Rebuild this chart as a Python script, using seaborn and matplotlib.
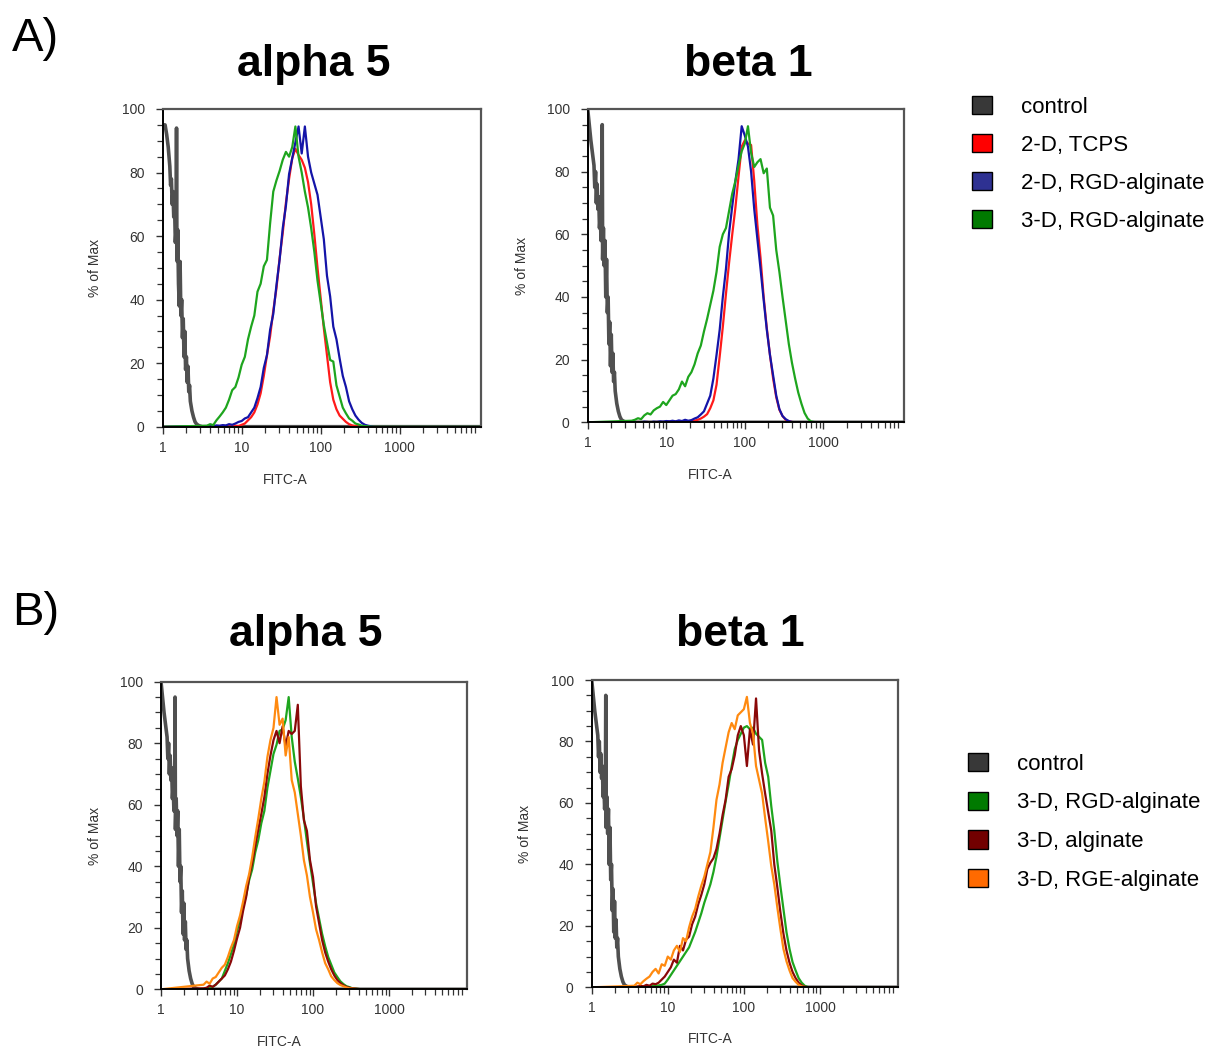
import numpy as np
import pandas as pd
import matplotlib.pyplot as plt
from matplotlib.patches import Patch
from matplotlib.ticker import NullFormatter
import seaborn as sns

sns.set_style('ticks')
plt.rcParams['font.family'] = ['Liberation Sans', 'DejaVu Sans']
plt.rcParams['text.color'] = 'black'

# log10(FITC-A) channel positions shared by all stained samples
log_bins = [0.56, 0.60, 0.64, 0.68, 0.72, 0.76, 0.80, 0.84, 0.88, 0.92,
            0.96, 1.00, 1.04, 1.08, 1.12, 1.16, 1.20, 1.24, 1.28, 1.32,
            1.36, 1.40, 1.44, 1.48, 1.52, 1.56, 1.60, 1.64, 1.68, 1.72,
            1.76, 1.80, 1.84, 1.88, 1.92, 1.96, 2.00, 2.04, 2.08, 2.12,
            2.16, 2.20, 2.24, 2.28, 2.32, 2.36, 2.40, 2.44, 2.48, 2.52,
            2.56, 2.60, 2.64, 2.68, 2.72, 2.76, 2.80, 2.84, 2.88, 2.92, 2.96]
log_top = 4.03

# unstained control (% of max)
ctrl_a5_log = [0.00, 0.03, 0.05, 0.07, 0.09, 0.10, 0.11, 0.12, 0.13, 0.14,
               0.15, 0.16, 0.17, 0.175, 0.18, 0.185, 0.19, 0.20, 0.21, 0.22,
               0.23, 0.24, 0.25, 0.26, 0.27, 0.28, 0.29, 0.30, 0.31, 0.32,
               0.33, 0.34, 0.35, 0.37, 0.39, 0.41, 0.43, 0.46, 0.50, 0.55]
ctrl_a5_pct = [95, 95, 92, 88, 82, 76, 78, 70, 74, 66,
               70, 58, 62, 94, 55, 52, 62, 45, 38, 52,
               35, 40, 28, 34, 22, 30, 18, 22, 14, 19,
               11, 13, 8, 5, 3, 1.5, 0.8, 0.3, 0, 0]
ctrl_log = [0.00, 0.02, 0.04, 0.06, 0.08, 0.09, 0.10, 0.11, 0.12, 0.13,
            0.14, 0.15, 0.16, 0.17, 0.18, 0.185, 0.19, 0.20, 0.21, 0.22,
            0.23, 0.24, 0.25, 0.26, 0.27, 0.28, 0.29, 0.30, 0.31, 0.32,
            0.33, 0.34, 0.35, 0.37, 0.39, 0.41, 0.43, 0.46, 0.50, 0.55]
ctrl_pct = [100, 95, 90, 86, 82, 75, 80, 70, 76, 68,
            72, 62, 66, 58, 63, 95, 52, 62, 50, 58,
            40, 52, 35, 40, 25, 32, 18, 28, 16, 22,
            13, 16, 10, 6, 3.5, 1.8, 0.8, 0.3, 0, 0]

# A) alpha 5
a_a5_tcps = [0, 0, 0, 0, 0, 0.1, 0, 0.2, 0.1, 0.3,
             0.2, 0.6, 1.0, 2.0, 3.0, 4.5, 7.0, 10.5, 16.0, 22.5,
             28.5, 36.5, 43.5, 53.0, 61.0, 70.5, 78.0, 84.5, 87.5, 85.5,
             84.0, 81.5, 77.0, 70.0, 60.5, 50.0, 40.5, 31.0, 22.5, 14.0,
             8.5, 5.5, 3.5, 2.5, 1.5, 0.8, 0.4, 0.2, 0.1, 0,
             0, 0, 0, 0, 0, 0, 0, 0, 0, 0, 0]
a_a5_rgd2d = [0.2, 0.3, 0.1, 0.4, 0.3, 0.5, 0.4, 0.8, 0.6, 1.0,
              1.5, 1.8, 2.6, 3.0, 4.5, 6.0, 9.0, 12.5, 18.5, 22.5,
              30.5, 35.5, 44.5, 52.5, 62.5, 69.5, 79.5, 84.5, 89.5, 94.5,
              86.0, 94.5, 85.0, 80.0, 76.5, 73.0, 66.0, 59.0, 47.5, 41.0,
              31.5, 27.5, 21.5, 16.0, 12.5, 8.0, 5.5, 3.5, 2.2, 1.2,
              0.6, 0.3, 0.1, 0, 0, 0, 0, 0, 0, 0, 0]
a_a5_rgd3d = [0.3, 0.8, 0.5, 2.0, 3.2, 4.5, 6.0, 8.5, 11.5, 12.5,
              15.5, 19.5, 22.0, 27.5, 31.5, 35.0, 42.5, 45.0, 50.5, 52.5,
              64.0, 74.0, 77.5, 80.5, 84.0, 86.5, 85.0, 88.0, 94.5, 85.0,
              80.0, 74.0, 69.0, 62.5, 55.0, 46.0, 39.0, 32.0, 26.5, 21.0,
              20.5, 13.0, 9.5, 6.0, 4.2, 2.6, 1.9, 1.0, 0.7, 0.3,
              0.2, 0.1, 0, 0, 0, 0, 0, 0, 0, 0, 0]

# A) beta 1
a_b1_tcps = [0, 0, 0.1, 0, 0, 0.1, 0, 0, 0.1, 0,
             0.1, 0, 0.2, 0.1, 0.2, 0.3, 0.2, 0.4, 0.3, 0.4,
             0.5, 0.8, 1.2, 1.8, 2.6, 4.5, 7.0, 12.0, 21.0, 30.5,
             41.0, 51.0, 60.0, 68.5, 78.5, 88.0, 90.0, 89.0, 88.5, 77.0,
             63.0, 52.5, 40.0, 30.0, 21.5, 14.0, 8.0, 4.0, 2.0, 0.8,
             0.3, 0.1, 0, 0, 0, 0, 0, 0, 0, 0, 0]
a_b1_rgd2d = [0, 0.1, 0, 0, 0.2, 0.1, 0, 0.2, 0.1, 0.3,
              0.2, 0.4, 0.3, 0.5, 0.3, 0.6, 0.4, 0.8, 0.5, 0.7,
              1.2, 1.6, 2.5, 3.5, 6.0, 8.5, 14.0, 21.5, 29.5, 40.0,
              49.0, 60.5, 69.0, 77.0, 84.0, 94.5, 91.5, 88.0, 80.0, 68.0,
              58.5, 49.0, 39.0, 29.5, 21.5, 15.0, 8.5, 4.2, 2.0, 1.0,
              0.4, 0.1, 0, 0, 0, 0, 0, 0, 0, 0, 0]
a_b1_rgd3d = [0.5, 0.8, 1.3, 1.0, 2.2, 2.9, 2.5, 3.8, 4.5, 5.0,
              6.5, 5.5, 7.0, 8.5, 9.0, 10.5, 13.0, 11.5, 14.5, 16.0,
              18.5, 22.0, 24.5, 29.0, 33.0, 37.5, 42.0, 48.0, 56.0, 60.0,
              62.0, 67.5, 73.0, 77.0, 82.0, 86.5, 89.0, 94.5, 86.0, 81.5,
              83.0, 84.0, 79.5, 81.0, 68.5, 66.0, 55.0, 48.0, 40.0, 32.5,
              25.0, 19.0, 14.0, 9.5, 6.0, 3.0, 1.2, 0.3, 0.1, 0, 0]

# B) alpha 5
b_a5_rgd = [0, 0.3, 0.5, 0.8, 1.5, 2.5, 3.5, 6.0, 8.5, 11.5,
            14.5, 19.0, 22.5, 27.0, 30.5, 35.5, 39.0, 44.5, 48.5, 54.0,
            58.0, 65.5, 71.0, 76.5, 79.5, 84.0, 84.5, 87.5, 95.0, 82.0,
            74.0, 68.5, 62.5, 55.5, 48.0, 41.0, 34.5, 28.0, 23.0, 18.0,
            14.0, 10.5, 8.0, 5.5, 4.0, 2.6, 1.7, 1.0, 0.7, 0.3,
            0.2, 0.1, 0, 0, 0, 0, 0, 0, 0, 0, 0]
b_a5_alg = [0.3, 0.5, 1.2, 0.8, 1.5, 2.5, 3.5, 4.5, 6.5, 9.0,
            12.5, 16.5, 20.0, 25.5, 30.0, 36.5, 41.0, 46.5, 52.0, 57.0,
            62.5, 70.0, 76.0, 81.0, 84.0, 80.0, 85.5, 79.0, 84.0, 83.0,
            84.0, 92.5, 66.0, 55.0, 51.5, 42.0, 36.5, 27.0, 21.5, 16.0,
            12.0, 9.0, 6.5, 4.5, 3.0, 2.0, 1.3, 0.8, 0.5, 0.3,
            0.2, 0.1, 0, 0, 0, 0, 0, 0, 0, 0, 0]
b_a5_rge = [1.5, 2.5, 1.8, 3.5, 4.0, 5.5, 7.0, 8.0, 10.5, 13.5,
            16.0, 20.5, 24.0, 28.5, 33.5, 37.5, 43.0, 49.5, 55.5, 62.0,
            67.5, 75.5, 81.0, 85.0, 95.0, 86.0, 88.0, 76.0, 82.0, 68.0,
            64.0, 57.0, 50.0, 42.0, 37.0, 30.0, 25.0, 19.5, 16.0, 12.0,
            8.5, 6.5, 4.2, 3.0, 2.0, 1.4, 1.0, 0.6, 0.3, 0.2,
            0.1, 0, 0, 0, 0, 0, 0, 0, 0, 0, 0]

# B) beta 1
b_b1_rgd = [0, 0, 0.2, 0, 0.3, 0.2, 0.4, 0.5, 0.6, 0.8,
            1.2, 2.5, 4.0, 5.5, 7.0, 8.5, 10.0, 11.5, 13.0, 15.5,
            18.0, 21.0, 24.0, 27.5, 30.5, 33.5, 37.5, 42.5, 48.5, 54.5,
            60.5, 66.0, 72.0, 77.5, 80.5, 82.5, 84.5, 85.0, 84.0, 84.5,
            82.5, 81.5, 80.5, 73.0, 68.5, 59.0, 51.0, 41.0, 33.0, 25.5,
            18.0, 12.5, 8.2, 5.5, 3.0, 1.5, 0.5, 0.1, 0, 0, 0]
b_b1_alg = [0, 0.2, 0.5, 0.3, 0.8, 0.5, 1.2, 1.0, 1.5, 2.5,
            3.5, 5.0, 6.5, 9.0, 8.0, 13.5, 12.0, 15.5, 16.5, 20.5,
            23.0, 27.0, 30.0, 33.5, 38.5, 40.5, 42.0, 45.0, 50.0, 56.0,
            61.0, 68.5, 71.0, 75.5, 82.0, 85.0, 82.0, 72.0, 84.0, 79.0,
            94.0, 77.0, 69.5, 63.0, 57.0, 51.0, 40.0, 32.5, 24.5, 17.5,
            12.0, 8.0, 5.0, 3.0, 1.5, 0.6, 0.2, 0, 0, 0, 0]
b_b1_rge = [0.5, 1.5, 1.0, 2.0, 2.8, 3.5, 5.0, 6.0, 4.5, 7.5,
            7.0, 10.0, 9.0, 12.0, 13.5, 11.5, 16.0, 15.0, 19.5, 23.0,
            25.5, 29.5, 33.0, 36.0, 40.0, 44.0, 52.0, 61.0, 66.0, 73.0,
            78.0, 83.0, 86.0, 84.0, 88.5, 89.5, 90.5, 94.5, 86.0, 82.5,
            72.0, 67.5, 63.0, 55.0, 47.5, 39.5, 33.5, 26.0, 19.0, 12.5,
            8.5, 5.5, 3.0, 1.8, 0.8, 0.3, 0.1, 0, 0, 0, 0]

legend_a = ['control', '2-D, TCPS', '2-D, RGD-alginate', '3-D, RGD-alginate']
legend_b = ['control', '3-D, RGD-alginate', '3-D, alginate', '3-D, RGE-alginate']
swatch_a = ['#383838', '#ff0000', '#2e3192', '#007a00']
swatch_b = ['#383838', '#007a00', '#720000', '#ff6a00']

ctrl_col = '#505050'
red, blue, green = '#ff1a1a', '#1414a8', '#1ea51e'
brown, orange = '#8a0808', '#ff8a10'

W, H = 1213, 1051


def fx(px):
    return px / W


def fy(py):
    return 1 - py / H


def draw_panel(ax, c_log, c_pct, samples):
    x = 10 ** np.array(c_log + [log_top])
    sns.lineplot(x=x, y=c_pct + [0], ax=ax, color=ctrl_col, linewidth=2.6,
                 estimator=None, sort=False, legend=False)
    for vals, col in samples:
        x = 10 ** np.array([0.0] + log_bins + [log_top])
        sns.lineplot(x=x, y=[0] + vals + [0], ax=ax, color=col, linewidth=1.6,
                     estimator=None, sort=False, legend=False)

    ax.set_xscale('log')
    ax.set_xlim(1, 10 ** log_top)
    ax.set_ylim(0, 100)
    ax.set_xticks([1, 10, 100, 1000])
    ax.set_xticklabels(['1', '10', '100', '1000'])
    ax.set_xticks([m * 10 ** d for d in range(4) for m in range(2, 10)], minor=True)
    ax.xaxis.set_minor_formatter(NullFormatter())
    ax.set_yticks(range(0, 101, 20))
    ax.set_yticks(range(0, 101, 5), minor=True)
    ax.tick_params(which='major', length=5, width=1, color='#333333',
                   labelsize=10, labelcolor='#333333')
    ax.tick_params(axis='y', which='major', pad=8)
    ax.tick_params(axis='x', which='major', pad=5)
    ax.tick_params(which='minor', length=4, width=0.9, color='#333333')
    for side in ['left', 'bottom']:
        ax.spines[side].set_color('black')
        ax.spines[side].set_linewidth(1.4)
    for side in ['top', 'right']:
        ax.spines[side].set_visible(True)
        ax.spines[side].set_color('#555555')
        ax.spines[side].set_linewidth(1.6)
    ax.set_xlabel('FITC-A', fontsize=10, color='#333333')
    ax.set_ylabel('% of Max', fontsize=10, color='#333333')


fig = plt.figure(figsize=(W / 100, H / 100), dpi=100)

panels = [
    # left px, bottom px, width px, height px, control, samples, xlabel x, ylabel x, xlabel y
    (162.7, 426.7, 318.3, 317.7, (ctrl_a5_log, ctrl_a5_pct),
     [(a_a5_tcps, red), (a_a5_rgd2d, blue), (a_a5_rgd3d, green)], 285, 95, 480),
    (587.7, 422.3, 316.6, 313.3, (ctrl_log, ctrl_pct),
     [(a_b1_tcps, red), (a_b1_rgd2d, blue), (a_b1_rgd3d, green)], 710, 522, 475),
    (161.0, 989.3, 306.3, 307.6, (ctrl_log, ctrl_pct),
     [(b_a5_rgd, green), (b_a5_alg, brown), (b_a5_rge, orange)], 279, 95, 1042),
    (591.7, 987.3, 306.6, 307.3, (ctrl_log, ctrl_pct),
     [(b_b1_rgd, green), (b_b1_alg, brown), (b_b1_rge, orange)], 710, 525, 1039),
]

for left, bottom, w, h, ctrl, samples, xl_x, yl_x, xl_y in panels:
    ax = fig.add_axes([fx(left), fy(bottom), w / W, h / H])
    draw_panel(ax, ctrl[0], ctrl[1], samples)
    ax.xaxis.set_label_coords((xl_x - left) / w, -((xl_y - 7) - bottom) / h)
    ax.yaxis.set_label_coords((yl_x + 7 - left) / w, 0.5)

# panel titles and letters
for txt, cx, base in [('alpha 5', 314, 76), ('beta 1', 748, 76),
                      ('alpha 5', 305.5, 646), ('beta 1', 740.5, 646)]:
    fig.text(fx(cx), fy(base), txt, ha='center', va='baseline',
             fontsize=32, fontweight='bold', color='black')
fig.text(fx(12), fy(51), 'A)', ha='left', va='baseline', fontsize=34, color='black')
fig.text(fx(12), fy(625), 'B)', ha='left', va='baseline', fontsize=34, color='black')

# legends
for labels, cols, lx, ty, sp in [(legend_a, swatch_a, 972, 96, 0.72),
                                 (legend_b, swatch_b, 968, 753, 0.75)]:
    handles = [Patch(facecolor=c, edgecolor='black', linewidth=1, label=l)
               for l, c in zip(labels, cols)]
    leg = fig.legend(handles=handles, loc='upper left', bbox_to_anchor=(fx(lx), fy(ty)),
                     frameon=False, fontsize=16, handlelength=0.9, handleheight=0.9,
                     handletextpad=1.3, labelspacing=sp, borderpad=0, borderaxespad=0)
    for t in leg.get_texts():
        t.set_color('black')

fig.savefig('out.png', dpi=100)
